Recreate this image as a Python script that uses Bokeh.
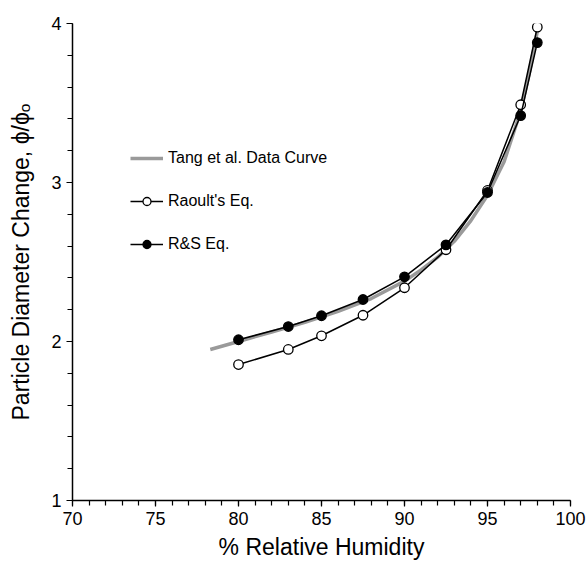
from bokeh.plotting import figure
from bokeh.models import Range1d, Legend, LegendItem, FixedTicker
from bokeh.embed import file_html
from bokeh.resources import INLINE

# Data
tang_rh = [78.3, 80, 82, 84, 86, 88, 90, 91, 92, 93, 94, 95, 96, 97, 97.5, 98]
tang_phi = [1.95, 2.00, 2.06, 2.12, 2.19, 2.27, 2.38, 2.45, 2.53, 2.63, 2.76, 2.92, 3.13, 3.45, 3.68, 3.95]

raoult_rh = [80, 83, 85, 87.5, 90, 92.5, 95, 97, 98]
raoult_phi = [1.855, 1.95, 2.036, 2.165, 2.338, 2.577, 2.95, 3.489, 3.977]

rs_rh = [80, 83, 85, 87.5, 90, 92.5, 95, 97, 98]
rs_phi = [2.011, 2.094, 2.162, 2.264, 2.407, 2.608, 2.937, 3.421, 3.880]

x_ticks = [70, 75, 80, 85, 90, 95, 100]
y_ticks = [1, 2, 3, 4]

FONT = "Liberation Sans"

p = figure(width=587, height=564, output_backend="svg", toolbar_location=None,
           x_range=Range1d(70, 100), y_range=Range1d(1, 4),
           min_border_left=72, min_border_right=17, min_border_top=23, min_border_bottom=64)
p.frame_width = 498
p.frame_height = 477
p.outline_line_color = None
p.xgrid.visible = False
p.ygrid.visible = False

for ax in (p.xaxis[0], p.yaxis[0]):
    ax.axis_line_color = "black"
    ax.axis_line_width = 1.5
    ax.major_tick_line_color = "black"
    ax.minor_tick_line_color = "black"
    ax.major_tick_line_width = 1.2
    ax.minor_tick_line_width = 1.2
    ax.major_tick_in = 0
    ax.major_tick_out = 6
    ax.minor_tick_in = 0
    ax.minor_tick_out = 5
    ax.major_label_text_font = FONT
    ax.major_label_text_font_size = "18px"
    ax.major_label_text_color = "black"
    ax.axis_label_text_font = FONT
    ax.axis_label_text_font_size = "23px"
    ax.axis_label_text_font_style = "normal"
    ax.axis_label_text_color = "black"

p.xaxis[0].ticker = FixedTicker(ticks=x_ticks, minor_ticks=list(range(70, 101)))
p.yaxis[0].ticker = FixedTicker(ticks=y_ticks, minor_ticks=[1 + 0.2 * i for i in range(16)])
p.xaxis[0].axis_label = "% Relative Humidity"
p.yaxis[0].axis_label = "Particle Diameter Change, \u03d5/\u03d5\u2092"
p.xaxis[0].axis_label_standoff = 6
p.yaxis[0].axis_label_standoff = 14

tang = p.line(tang_rh, tang_phi, line_color="#9a9a9a", line_width=3.5)
r_line = p.line(raoult_rh, raoult_phi, line_color="black", line_width=1.5)
r_pts = p.scatter(raoult_rh, raoult_phi, marker="circle", size=9.5,
                  fill_color="white", line_color="black", line_width=1.3)
s_line = p.line(rs_rh, rs_phi, line_color="black", line_width=1.5)
s_pts = p.scatter(rs_rh, rs_phi, marker="circle", size=9.5,
                  fill_color="black", line_color="black", line_width=1.3)

legend = Legend(items=[
    LegendItem(label="Tang et al. Data Curve", renderers=[tang]),
    LegendItem(label="Raoult's Eq.", renderers=[r_line, r_pts]),
    LegendItem(label="R&S Eq.", renderers=[s_line, s_pts]),
], location=(58, 246))
legend.border_line_color = None
legend.background_fill_alpha = 0
legend.padding = 0
legend.margin = 0
legend.glyph_width = 33
legend.glyph_height = 20
legend.label_height = 20
legend.spacing = 23
legend.label_standoff = 5
legend.label_text_font = FONT
legend.label_text_font_size = "16px"
legend.label_text_color = "black"
p.add_layout(legend, "center")

open("out.html", "w").write(file_html(p, INLINE))
